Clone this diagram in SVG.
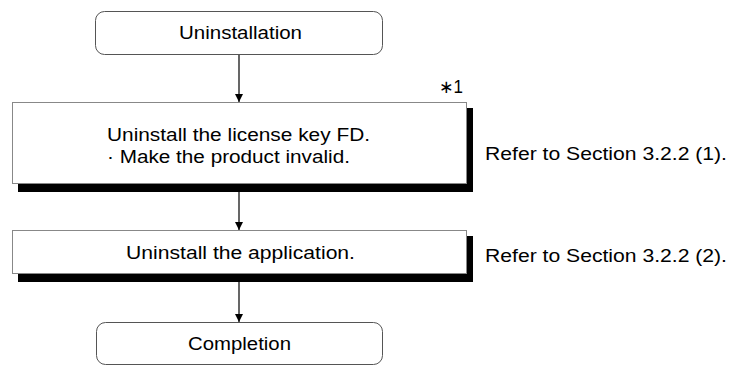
<svg xmlns="http://www.w3.org/2000/svg" width="730" height="365" viewBox="0 0 730 365">
<style>
.t{font-family:"Liberation Sans",Arial,sans-serif;font-size:17.5px;fill:#000}
.term{fill:#fff;stroke:#555;stroke-width:1}
.proc{fill:#fff;stroke:#888;stroke-width:1}
.shadow{fill:#000}
.conn{stroke:#000;stroke-width:1.2;fill:none}
</style>
<defs>
<marker id="arr" viewBox="0 0 10 10" refX="10" refY="5" markerWidth="8" markerHeight="9" markerUnits="userSpaceOnUse" orient="auto">
<path d="M0,0 L10,5 L0,10 Z" fill="#000"/>
</marker>
</defs>
<rect width="730" height="365" fill="#fff"/>
<g id="connectors">
<line class="conn" x1="239" y1="54" x2="239" y2="102" marker-end="url(#arr)"/>
<line class="conn" x1="239" y1="192" x2="239" y2="230" marker-end="url(#arr)"/>
<line class="conn" x1="239" y1="282" x2="239" y2="322" marker-end="url(#arr)"/>
</g>
<g id="start">
<rect class="term" x="95.5" y="11.5" width="287" height="43" rx="9"/>
<text class="t" x="179" y="38.5" textLength="123" lengthAdjust="spacingAndGlyphs">Uninstallation</text>
</g>
<g id="step1">
<rect class="shadow" x="18" y="108" width="455" height="84"/>
<rect class="proc" x="12.5" y="102.5" width="454" height="81"/>
<text class="t" x="107" y="140.5" textLength="263" lengthAdjust="spacingAndGlyphs">Uninstall the license key FD.</text>
<text class="t" x="107" y="163" textLength="243" lengthAdjust="spacingAndGlyphs">· Make the product invalid.</text>
<text class="t" x="439" y="93" textLength="24" lengthAdjust="spacingAndGlyphs">∗1</text>
</g>
<g id="ref1">
<text class="t" x="485" y="159.5" textLength="242" lengthAdjust="spacingAndGlyphs">Refer to Section 3.2.2 (1).</text>
</g>
<g id="step2">
<rect class="shadow" x="18" y="236" width="455" height="46"/>
<rect class="proc" x="12.5" y="230.5" width="454" height="43"/>
<text class="t" x="126" y="258.5" textLength="229" lengthAdjust="spacingAndGlyphs">Uninstall the application.</text>
</g>
<g id="ref2">
<text class="t" x="485" y="262" textLength="242" lengthAdjust="spacingAndGlyphs">Refer to Section 3.2.2 (2).</text>
</g>
<g id="end">
<rect class="term" x="96.5" y="322.5" width="286" height="42" rx="9"/>
<text class="t" x="188" y="350" textLength="103" lengthAdjust="spacingAndGlyphs">Completion</text>
</g>
</svg>
